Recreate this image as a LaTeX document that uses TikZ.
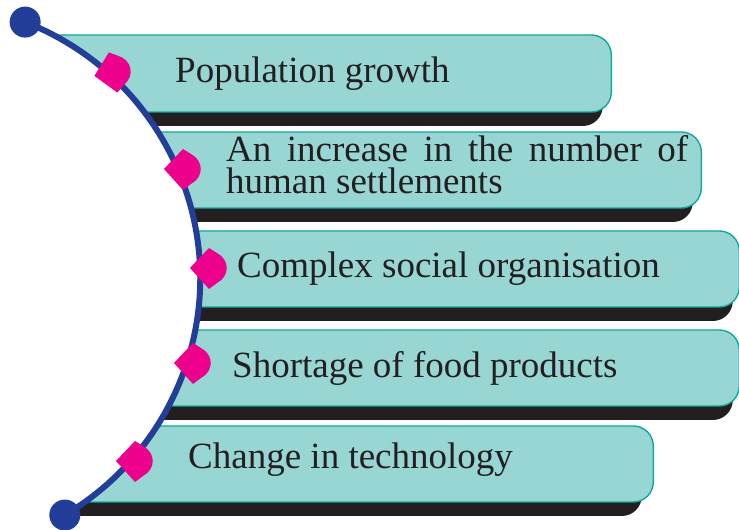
\documentclass[tikz,border=0pt]{standalone}
\usepackage{fontspec}
\setmainfont{Liberation Serif}
\definecolor{tealfill}{HTML}{98D6D3}
\definecolor{tealline}{HTML}{10A89C}
\definecolor{shadowc}{HTML}{231F20}
\definecolor{arcblue}{HTML}{233E99}
\definecolor{pinkm}{HTML}{EC008C}
\definecolor{textc}{HTML}{231F20}
\tikzset{
  boxshape/.style={rectangle, draw=tealline, fill=tealfill, line width=1.4pt, rounded corners=20pt, inner sep=0pt},
  shadowshape/.style={rectangle, fill=shadowc, rounded corners=20pt, inner sep=0pt},
  arcline/.style={draw=arcblue, line width=6pt},
  enddot/.style={circle, fill=arcblue, minimum size=31pt, inner sep=0pt},
  lbl/.style={anchor=base west, inner sep=0pt, text=textc, font=\fontsize{37}{32}\selectfont},
  pics/marker/.style={code={
    \fill[pinkm] (-19,0) -- (0,20) -- (8,15) .. controls (21,8) and (21,-8) .. (8,-15) -- (0,-21) -- cycle;
  }}
}
\begin{document}
\begin{tikzpicture}[x=1pt,y=1pt]
\useasboundingbox (0,0) rectangle (739,530);
% shadows
\node[shadowshape, minimum width=622pt, minimum height=77pt, anchor=east] (s1) at (603,442.5) {};
\node[shadowshape, minimum width=712pt, minimum height=76pt, anchor=east] (s2) at (693,346) {};
\node[shadowshape, minimum width=750pt, minimum height=76pt, anchor=east] (s3) at (733,247) {};
\node[shadowshape, minimum width=750pt, minimum height=76pt, anchor=east] (s4) at (733,148) {};
\node[shadowshape, minimum width=664pt, minimum height=76pt, anchor=east] (s5) at (642,52) {};
% boxes
\node[boxshape, minimum width=622pt, minimum height=77pt, anchor=east] (b1) at (612,456.5) {};
\node[boxshape, minimum width=712pt, minimum height=76pt, anchor=east] (b2) at (702,360) {};
\node[boxshape, minimum width=750pt, minimum height=76pt, anchor=east] (b3) at (740,261) {};
\node[boxshape, minimum width=750pt, minimum height=76pt, anchor=east] (b4) at (740,162) {};
\node[boxshape, minimum width=664pt, minimum height=76pt, anchor=east] (b5) at (654,66) {};
% white disc hiding the left parts
\coordinate (ctr) at (-74.7,251.8);
\fill[white] (ctr) circle (274.9);
% arc
\path (ctr) ++(68.7:274.9) coordinate (tdot);
\path (ctr) ++(-59.5:274.9) coordinate (bdot);
\draw[arcline] (tdot) arc[start angle=68.7, end angle=-59.5, radius=274.9];
\node[enddot] (d1) at (tdot) {};
\node[enddot] (d2) at (bdot) {};
% markers
\pic[rotate=12] (m1) at (113,458) {marker};
\pic (m2) at (183,361) {marker};
\pic (m3) at (209,262) {marker};
\pic (m4) at (193,167) {marker};
\pic (m5) at (135,69) {marker};
% texts
\node[lbl] (t1) at (175,447) {Population growth};
\node[lbl] (t2) at (226,368) {\parbox[t]{462pt}{\fontsize{37}{32}\selectfont\makebox[462pt][s]{An increase in the number of}\\human settlements}};
\node[lbl] (t3) at (237,252) {Complex social organisation};
\node[lbl] (t4) at (232,152) {Shortage of food products};
\node[lbl] (t5) at (188,61) {Change in technology};
\end{tikzpicture}
\end{document}
